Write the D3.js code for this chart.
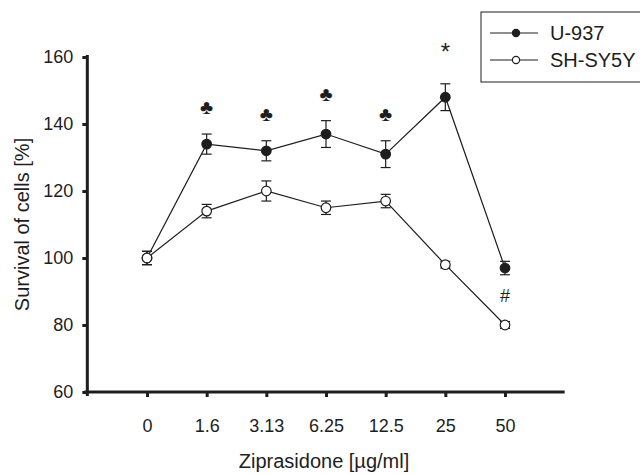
<!DOCTYPE html>
<html>
<head>
<meta charset="utf-8">
<script src="https://cdn.jsdelivr.net/npm/d3@7"></script>
<style>
	body { margin: 0; background: #fff; }
	svg { display: block; font-family: "Liberation Sans", Arial, sans-serif; }
	.axis path, .axis line { stroke: #1e1e1e; }
	.axis text { fill: #1e1e1e; font-size: 18px; }
</style>
</head>
<body>
<div id="chart"></div>
<script>
// doses on the x axis (µg/ml)
const doses = ["0", "1.6", "3.13", "6.25", "12.5", "25", "50"];
const u937 = [100, 134, 132, 137, 131, 148, 97];
const u937Err = [2, 3, 3, 4, 4, 4, 2];
const shsy5y = [100, 114, 120, 115, 117, 98, 80];
const shsy5yErr = [2, 2, 3, 2, 2, 1, 1];
const u937Marks = ["", "♣", "♣", "♣", "♣", "*", ""];
const shsy5yMarks = ["", "", "", "", "", "", "#"];
const yTicks = [60, 80, 100, 120, 140, 160];

const width = 640, height = 475;
const ink = "#1e1e1e";

const svg = d3.select('#chart').append('svg')
	.attr('width', width)
	.attr('height', height);

const x = d3.scalePoint()
	.domain(doses)
	.range([147, 505]);
const y = d3.scaleLinear()
	.domain([60, 160])
	.range([392, 57]);

const x0 = x(doses[0]) - x.step();
const x1 = x(doses[doses.length-1]) + x.step();

// x axis
const xAxis = svg.append('g')
	.attr('class', 'axis x')
	.attr('transform', `translate(0, ${y(60)})`)
	.call(d3.axisBottom(x).tickSize(5).tickPadding(22))
	.call(g => g.select('.domain').remove());
xAxis.selectAll('line').attr('stroke-width', 3);
xAxis.append('line')
	.attr('x1', x0 - 3).attr('x2', x1)
	.attr('stroke-width', 3);

// y axis
const yAxis = svg.append('g')
	.attr('class', 'axis y')
	.attr('transform', `translate(${x0}, 0)`)
	.call(d3.axisLeft(y).tickValues(yTicks).tickSize(5).tickPadding(9))
	.call(g => g.select('.domain').remove());
yAxis.selectAll('line').attr('stroke-width', 3);
yAxis.append('line')
	.attr('y1', y(160) - 2).attr('y2', y(60) + 4)
	.attr('stroke-width', 3);

// axis titles
svg.append('text')
	.attr('x', 324).attr('y', 468)
	.attr('text-anchor', 'middle')
	.attr('font-size', 20)
	.attr('fill', ink)
	.text('Ziprasidone [µg/ml]');
svg.append('text')
	.attr('transform', `translate(29, ${y(110)}) rotate(-90)`)
	.attr('text-anchor', 'middle')
	.attr('font-size', 20)
	.attr('fill', ink)
	.text('Survival of cells [%]');

const series = [
	{ name: 'U-937', values: u937, err: u937Err, marks: u937Marks, fill: ink },
	{ name: 'SH-SY5Y', values: shsy5y, err: shsy5yErr, marks: shsy5yMarks, fill: '#fff' },
];

const line = d3.line()
	.x((d, i) => x(doses[i]))
	.y(d => y(d));

series.forEach(s => {
	const g = svg.append('g');
	g.append('path')
		.datum(s.values)
		.attr('d', line)
		.attr('fill', 'none')
		.attr('stroke', ink)
		.attr('stroke-width', 1.2);

	// error bars
	const eb = g.selectAll('.err').data(s.values).join('g');
	eb.append('line')
		.attr('x1', (d, i) => x(doses[i])).attr('x2', (d, i) => x(doses[i]))
		.attr('y1', (d, i) => y(d + s.err[i])).attr('y2', (d, i) => y(d - s.err[i]));
	eb.append('line')
		.attr('x1', (d, i) => x(doses[i]) - 5).attr('x2', (d, i) => x(doses[i]) + 5)
		.attr('y1', (d, i) => y(d + s.err[i])).attr('y2', (d, i) => y(d + s.err[i]));
	eb.append('line')
		.attr('x1', (d, i) => x(doses[i]) - 5).attr('x2', (d, i) => x(doses[i]) + 5)
		.attr('y1', (d, i) => y(d - s.err[i])).attr('y2', (d, i) => y(d - s.err[i]));
	eb.selectAll('line').attr('stroke', ink).attr('stroke-width', 1.2);

	g.selectAll('circle').data(s.values).join('circle')
		.attr('cx', (d, i) => x(doses[i]))
		.attr('cy', d => y(d))
		.attr('r', 4.8)
		.attr('fill', s.fill)
		.attr('stroke', ink)
		.attr('stroke-width', 1.2);

	// significance symbols
	g.selectAll('.mark').data(s.values).join('text')
		.attr('x', (d, i) => x(doses[i]))
		.attr('y', (d, i) => s.marks[i] === '*' ? y(d + s.err[i]) - 24 : y(d + s.err[i]) - 20)
		.attr('text-anchor', 'middle')
		.attr('font-size', (d, i) => s.marks[i] === '*' ? 24 : s.marks[i] === '#' ? 18 : 20)
		.attr('fill', ink)
		.text((d, i) => s.marks[i]);
});

// legend
const legend = svg.append('g');
legend.append('rect')
	.attr('x', 481).attr('y', 12)
	.attr('width', 170).attr('height', 70)
	.attr('fill', '#fff')
	.attr('stroke', ink)
	.attr('stroke-width', 1);
series.forEach((s, i) => {
	const ly = 33 + i * 27;
	legend.append('line')
		.attr('x1', 490).attr('x2', 538)
		.attr('y1', ly).attr('y2', ly)
		.attr('stroke', ink).attr('stroke-width', 1.2);
	legend.append('circle')
		.attr('cx', 516).attr('cy', ly).attr('r', 3.6)
		.attr('fill', s.fill).attr('stroke', ink).attr('stroke-width', 1.2);
	legend.append('text')
		.attr('x', 550).attr('y', ly + 7)
		.attr('font-size', 20)
		.attr('fill', ink)
		.text(s.name);
});
</script>
</body>
</html>
